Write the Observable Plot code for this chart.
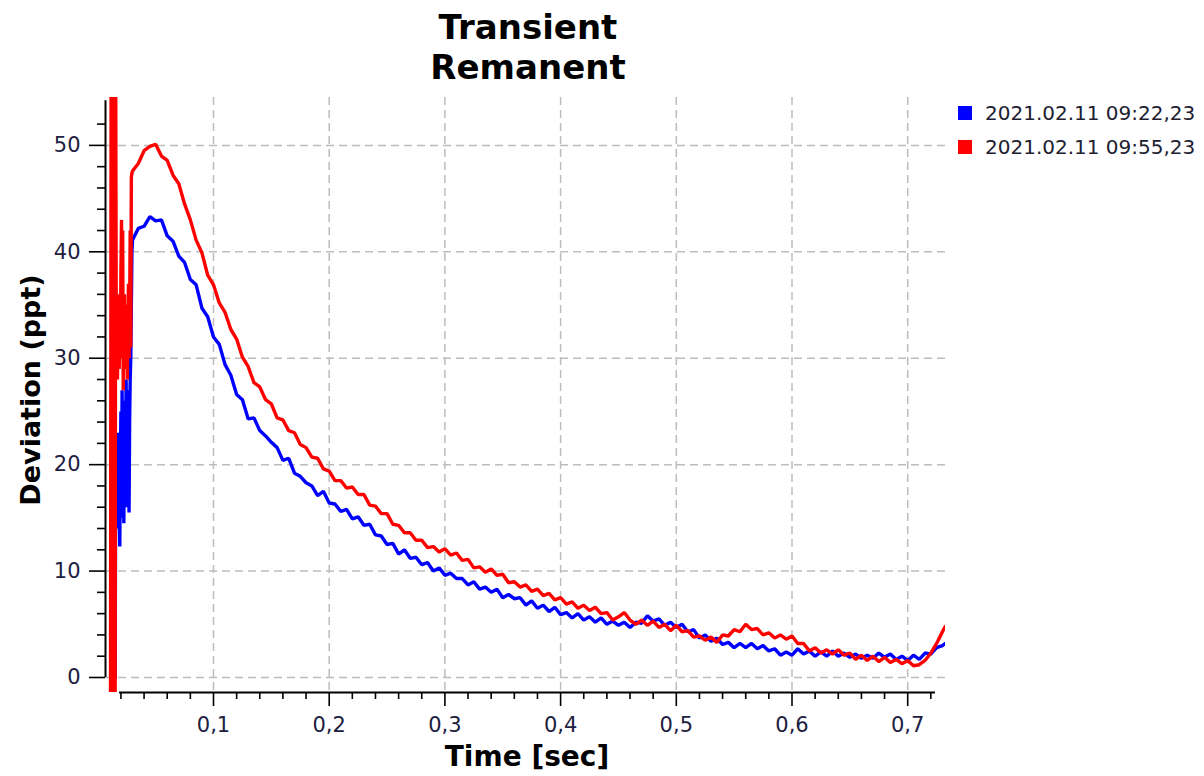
<!DOCTYPE html>
<html><head><meta charset="utf-8">
<script src="https://cdn.jsdelivr.net/npm/d3@7"></script>
<script src="https://cdn.jsdelivr.net/npm/@observablehq/plot@0.6"></script>
<style>
body{margin:0;background:#fff;width:1204px;height:776px;overflow:hidden;position:relative;font-family:"DejaVu Sans",sans-serif}
#title{position:absolute;left:0;top:7px;width:1056px;text-align:center;font-weight:bold;font-size:34px;line-height:40px;color:#000}
#chart{position:absolute;left:0;top:0}
#xlabel{position:absolute;left:0;top:739px;width:1054px;text-align:center;font-weight:bold;font-size:28px;line-height:36px;color:#000}
#ylabel{position:absolute;left:30px;top:390px;transform:translate(-50%,-50%) rotate(-90deg);white-space:nowrap;font-weight:bold;font-size:27px;color:#000}
#legend{position:absolute;left:958px;top:100px;font-size:20px;color:#202030}
.item{display:flex;align-items:center;height:43px;margin-top:-9px}
.sw{width:14px;height:14px;margin-right:13px}
</style></head><body>
<div id="title">Transient<br>Remanent</div>
<div id="chart"></div>
<div id="xlabel">Time [sec]</div>
<div id="ylabel">Deviation (ppt)</div>
<div id="legend"></div>
<script>
const seriesNames = ["2021.02.11 09:22,23", "2021.02.11 09:55,23"];
const seriesColors = ["#0000ff", "#ff0000"];
const titleLines = ["Transient", "Remanent"];

const xMajor = [0.1,0.2,0.3,0.4,0.5,0.6,0.7];
const xMinor = [0.02,0.04,0.06,0.08,0.12,0.14,0.16,0.18,0.22,0.24,0.26,0.28,0.32,0.34,0.36,0.38,0.42,0.44,0.46,0.48,0.52,0.54,0.56,0.58,0.62,0.64,0.66,0.68,0.72];
const yMajor = [0,10,20,30,40,50];
const yMinor = [2,4,6,8,12,14,16,18,22,24,26,28,32,34,36,38,42,44,46,48,52];

// shared sampling times of the decay part (sec)
const time = [0.030,0.035,0.040,0.045,0.050,0.055,0.060,0.065,0.070,0.075,
0.080,0.085,0.090,0.095,0.100,0.105,0.110,0.115,0.120,0.125,
0.130,0.135,0.140,0.145,0.150,0.155,0.160,0.165,0.170,0.175,
0.180,0.185,0.190,0.195,0.200,0.205,0.210,0.215,0.220,0.225,
0.230,0.235,0.240,0.245,0.250,0.255,0.260,0.265,0.270,0.275,
0.280,0.285,0.290,0.295,0.300,0.305,0.310,0.315,0.320,0.325,
0.330,0.335,0.340,0.345,0.350,0.355,0.360,0.365,0.370,0.375,
0.380,0.385,0.390,0.395,0.400,0.405,0.410,0.415,0.420,0.425,
0.430,0.435,0.440,0.445,0.450,0.455,0.460,0.465,0.470,0.475,
0.480,0.485,0.490,0.495,0.500,0.505,0.510,0.515,0.520,0.525,
0.530,0.535,0.540,0.545,0.550,0.555,0.560,0.565,0.570,0.575,
0.580,0.585,0.590,0.595,0.600,0.605,0.610,0.615,0.620,0.625,
0.630,0.635,0.640,0.645,0.650,0.655,0.660,0.665,0.670,0.675,
0.680,0.685,0.690,0.695,0.700,0.705,0.710,0.715,0.720,0.725,
0.730,0.7325];

const blueValues = [41.1,42.2,42.4,43.3,42.9,43.0,41.5,41.0,39.6,39.0,
37.4,36.9,34.7,33.9,32.0,31.3,29.4,28.4,26.6,26.1,
24.3,24.4,23.2,22.7,22.1,21.6,20.4,20.6,19.2,18.9,
18.3,18.0,17.1,17.5,16.4,16.3,15.6,15.8,14.9,15.1,
14.3,14.4,13.4,13.3,12.5,12.6,11.6,12.0,11.2,11.3,
10.6,10.8,10.0,10.3,9.6,9.8,9.3,9.3,8.7,9.0,
8.3,8.5,8.0,8.3,7.5,7.8,7.4,7.5,6.8,7.2,
6.5,6.8,6.2,6.6,5.9,6.1,5.6,6.0,5.4,5.7,
5.2,5.6,5.0,5.3,4.9,5.2,4.7,5.2,5.1,5.8,
5.3,5.5,4.9,5.2,4.7,5.0,4.3,4.5,3.7,4.0,
3.4,3.7,3.1,3.3,2.8,3.2,2.8,3.2,2.7,3.0,
2.5,2.7,2.1,2.4,2.1,2.7,2.2,2.5,2.0,2.4,
2.0,2.5,2.0,2.3,1.9,2.2,1.8,2.1,1.8,2.3,
1.9,2.2,1.7,2.0,1.6,2.1,1.7,2.3,2.2,2.8,
3.0,3.2];

const redValues = [47.6,48.3,49.5,49.9,50.1,49.0,48.6,47.2,46.4,44.5,
43.0,41.1,39.9,37.8,36.9,35.2,34.3,32.7,31.8,30.1,
29.2,27.7,27.3,26.1,25.7,24.4,24.2,23.2,23.0,21.9,
21.6,20.7,20.6,19.6,19.4,18.5,18.5,17.8,17.9,17.2,
17.2,16.2,16.1,15.4,15.4,14.4,14.3,13.6,13.6,12.9,
12.9,12.2,12.3,11.8,12.1,11.5,11.7,11.0,11.1,10.3,
10.4,9.9,10.2,9.6,9.7,8.9,9.0,8.5,8.7,8.1,
8.3,7.7,7.9,7.3,7.5,6.9,7.1,6.5,6.8,6.3,
6.6,6.0,6.1,5.4,5.7,6.1,5.4,5.0,5.4,4.9,
5.3,4.7,5.0,4.4,4.9,4.3,4.4,3.8,3.9,3.5,
3.8,3.3,4.0,3.9,4.5,4.3,5.0,4.5,4.6,4.0,
4.2,3.7,4.0,3.6,3.9,3.2,3.2,2.5,2.8,2.3,
2.6,2.2,2.6,2.1,2.3,1.7,2.1,1.6,2.0,1.5,
1.9,1.4,1.7,1.3,1.6,1.1,1.2,1.6,2.3,3.2,
4.3,4.8];

// early transient (oscillating start)
const earlyTimeRed = [0.0110,0.0115,0.0120,0.0125,0.0130,0.0135,0.0140,0.0145,0.0150,0.0155,
0.0160,0.0165,0.0170,0.0175,0.0180,0.0185,0.0190,0.0195,0.0200,0.0205,
0.0210,0.0215,0.0220,0.0225,0.0230,0.0235,0.0240,0.0245,0.0250,0.0255,
0.0260,0.0265,0.0270,0.0275,0.0280,0.0285,0.0290,0.0295];
const earlyRed = [-1.5,56,-1.5,56,-1.5,56,-1.5,56,-1.5,56,
30,35,28,33,36,29,34,31,38,43,
30,42,27,33,36,29,34,31,35,28,
33,37,30,34,42,31,47,47.4];
const earlyTimeBlue = [0.0150,0.0155,0.0160,0.0165,0.0170,0.0175,0.0180,0.0185,0.0190,0.0195,
0.0200,0.0205,0.0210,0.0215,0.0220,0.0225,0.0230,0.0235,0.0240,0.0245,
0.0250,0.0255,0.0260,0.0265,0.0270,0.0275,0.0280,0.0285,0.0290,0.0295];
const earlyBlue = [0,22,15,21,14,19,23,16,12.3,20,
25,15,27,18,24,14.5,26,17,22,28,
16,25,21,27,15.5,24,28,30,35,40];

const blueData = earlyTimeBlue.map((t,i)=>({t, v: earlyBlue[i]}))
  .concat(time.map((t,i)=>({t, v: blueValues[i]})));
const redData = earlyTimeRed.map((t,i)=>({t, v: earlyRed[i]}))
  .concat(time.map((t,i)=>({t, v: redValues[i]})));

const xDom = [0.00666, 0.73267];
const yDom = [-1.41, 54.5];
const fmt = d => d.toFixed(1).replace(".", ",");
const gridStyle = {stroke:"#bdbdbd", strokeOpacity:1, strokeDasharray:"8,5", strokeWidth:1.5};

const chart = Plot.plot({
  width: 1204, height: 776,
  marginTop: 97, marginLeft: 105, marginRight: 259, marginBottom: 84,
  x: {domain: xDom},
  y: {domain: yDom},
  style: {fontFamily: "DejaVu Sans", fontSize: "21px", color: "#202040", background: "transparent"},
  marks: [
    Plot.gridX(xMajor, gridStyle),
    Plot.gridY(yMajor, gridStyle),
    Plot.line(blueData, {x: "t", y: "v", stroke: seriesColors[0], strokeWidth: 3.4, strokeLinejoin: "bevel", clip: true}),
    Plot.line(redData, {x: "t", y: "v", stroke: seriesColors[1], strokeWidth: 3.4, strokeLinejoin: "bevel", clip: true}),
    Plot.axisY(yMajor, {anchor: "left", tickSize: 16, tickPadding: 9, label: null, stroke: "#000", strokeWidth: 1.6, fill: "#202040", fontSize: 21}),
    Plot.axisY(yMinor, {anchor: "left", tickSize: 8, tickFormat: () => "", label: null, stroke: "#000", strokeWidth: 1.6}),
    Plot.ruleX([xDom[0]], {y1: 0, y2: 54.2, stroke: "#000", strokeWidth: 2}),
    Plot.axisX(xMajor, {anchor: "bottom", tickSize: 14, tickPadding: 11, tickFormat: fmt, label: null, stroke: "#000", strokeWidth: 1.6, fill: "#202040", fontSize: 21}),
    Plot.axisX(xMinor, {anchor: "bottom", tickSize: 7, tickFormat: () => "", label: null, stroke: "#000", strokeWidth: 1.6}),
    Plot.ruleY([yDom[0]], {x1: 0.0188, x2: 0.724, stroke: "#000", strokeWidth: 2})
  ]
});
document.getElementById("chart").appendChild(chart);
document.getElementById("title").innerHTML = titleLines.join("<br>");

const legend = document.getElementById("legend");
seriesNames.forEach((n, i) => {
  const it = document.createElement("div");
  it.className = "item";
  it.innerHTML = `<span class="sw" style="background:${seriesColors[i]}"></span><span>${n}</span>`;
  legend.appendChild(it);
});
</script>
</body></html>
